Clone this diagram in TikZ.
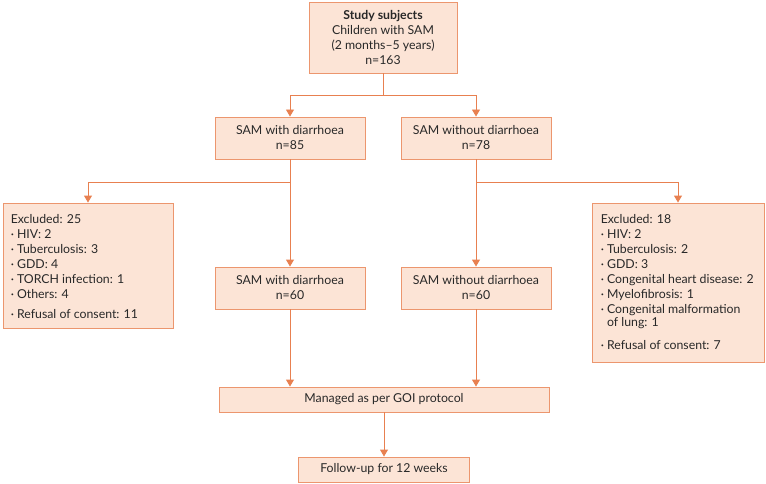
\documentclass[tikz,border=0pt]{standalone}
\usepackage{fontspec}
\setmainfont{Lato}
\usetikzlibrary{arrows.meta}
\definecolor{orfill}{RGB}{252,228,214}
\definecolor{orbord}{RGB}{236,150,110}
\definecolor{orline}{RGB}{232,128,80}
\definecolor{txt}{RGB}{40,40,40}
\begin{document}
\begin{tikzpicture}[x=1pt,y=-1pt,
  box/.style={draw=orbord, fill=orfill, line width=0.9pt, inner sep=0pt, align=center,
    text=txt, font=\fontsize{12.3}{15}\selectfont},
  listtext/.style={inner sep=0pt, align=left, anchor=north west, text=txt,
    font=\fontsize{12.3}{15}\selectfont},
  conn/.style={draw=orline, line width=0.9pt},
  arr/.style={conn, -{Triangle[width=8pt,length=7pt]}}]
\useasboundingbox (0,0) rectangle (766,484);
\node[box, minimum width=148pt, minimum height=71pt] (top) at (383,37.5)
  {\textbf{Study subjects}\\Children with SAM\\(2 months–5 years)\\n=163};
\node[box, minimum width=150pt, minimum height=42pt] (a1) at (290,138) {SAM with diarrhoea\\n=85};
\node[box, minimum width=150pt, minimum height=42pt] (a2) at (476,138) {SAM without diarrhoea\\n=78};
\node[box, minimum width=150pt, minimum height=42pt] (b1) at (290,288) {SAM with diarrhoea\\n=60};
\node[box, minimum width=150pt, minimum height=42pt] (b2) at (476,288) {SAM without diarrhoea\\n=60};
\node[box, minimum width=170pt, minimum height=125pt] (ex1) at (88,265.5) {};
\node[box, minimum width=172pt, minimum height=159pt] (ex2) at (678,282.5) {};
\node[listtext] (ex1t) at ([xshift=8pt,yshift=-12pt]ex1.north west)
  {Excluded: 25\\· HIV: 2\\· Tuberculosis: 3\\· GDD: 4\\· TORCH infection: 1\\· Others: 4\\[5pt]· Refusal of consent: 11};
\node[listtext] (ex2t) at ([xshift=9pt,yshift=-12pt]ex2.north west)
  {Excluded: 18\\· HIV: 2\\· Tuberculosis: 2\\· GDD: 3\\· Congenital heart disease: 2\\· Myelofibrosis: 1\\· Congenital malformation\\[-2pt]\phantom{· }of lung: 1\\[8pt]· Refusal of consent: 7};
\node[box, minimum width=330pt, minimum height=25pt] (m) at (384,399.5) {Managed as per GOI protocol};
\node[box, minimum width=171pt, minimum height=25pt] (f) at (384,469.5) {Follow-up for 12 weeks};
% connectors
\coordinate (j0) at (383,95);
\coordinate (jl) at (290,182);
\coordinate (jr) at (476,182);
\draw[conn] (top.south) -- (j0);
\draw[arr] (j0) -| (a1.north);
\draw[arr] (j0) -| (a2.north);
\draw[arr] (a1.south) -- (b1.north);
\draw[arr] (a2.south) -- (b2.north);
\draw[arr] (jl) -| (ex1.north);
\draw[arr] (jr) -| (ex2.north);
\draw[arr] (b1.south) -- (b1.south |- m.north);
\draw[arr] (b2.south) -- (b2.south |- m.north);
\draw[arr] (m.south) -- (f.north);
\end{tikzpicture}
\end{document}
